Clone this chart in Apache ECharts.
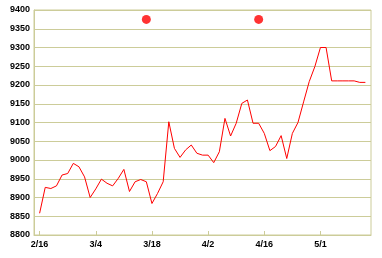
<!DOCTYPE html>
<html>
<head>
<meta charset="utf-8">
<script src="https://cdn.jsdelivr.net/npm/echarts@6/dist/echarts.min.js"></script>
<style>
html,body{margin:0;padding:0;background:#fff;}
#chart{width:382px;height:258px;}
</style>
</head>
<body>
<div id="chart"></div>
<script>
// Trading-day slots (index 0 and last are padding slots)
var tickLabels = {1:'2/16', 11:'3/4', 21:'3/18', 31:'4/2', 41:'4/16', 51:'5/1'};
var slotCount = 61;
var categories = [];
for (var i = 0; i < slotCount; i++) { categories.push(tickLabels[i] || ''); }

var values = [null,
  8858, 8927, 8924, 8931, 8960, 8964, 8991, 8982, 8955, 8900,
  8923, 8949, 8938, 8931, 8951, 8975, 8916, 8942, 8948, 8942,
  8884, 8911, 8942, 9102, 9031, 9007, 9027, 9040, 9018, 9013,
  9013, 8993, 9022, 9111, 9064, 9098, 9151, 9160, 9098, 9098,
  9071, 9025, 9036, 9065, 9004, 9071, 9100, 9155, 9209, 9249,
  9300, 9300, 9211, 9211, 9211, 9211, 9211, 9207, 9207, null];

var markerSlots = [20, 40];
var markerValues = [9375, 9375];

var yMin = 8800, yMax = 9400, yStep = 50;

var isTick = function (idx) { return tickLabels[idx] !== undefined; };

var chart = echarts.init(document.getElementById('chart'), null, {renderer: 'canvas'});
chart.setOption({
  animation: false,
  backgroundColor: '#ffffff',
  grid: {left: 34, right: 11, top: 10, bottom: 23, show: true, borderColor: '#cccc99', borderWidth: 1, backgroundColor: '#ffffff'},
  xAxis: {
    type: 'category',
    data: categories,
    boundaryGap: false,
    axisLine: {lineStyle: {color: '#cccc99', width: 1}},
    axisTick: {show: true, inside: true, length: 4, interval: isTick, lineStyle: {color: '#cccc99'}},
    axisLabel: {interval: isTick, color: '#000', fontFamily: 'Liberation Sans', fontSize: 9, fontWeight: 'bold', margin: 5},
    splitLine: {show: false}
  },
  yAxis: {
    type: 'value',
    min: yMin, max: yMax, interval: yStep,
    axisLine: {show: true, lineStyle: {color: '#cccc99'}},
    axisTick: {show: false},
    axisLabel: {color: '#000', fontFamily: 'Liberation Sans', fontSize: 9, fontWeight: 'bold', margin: 4,
      formatter: function (v) { return String(v); }},
    splitLine: {show: true, lineStyle: {color: '#cccc99', width: 1}}
  },
  series: [
    {
      type: 'line',
      data: values,
      showSymbol: false,
      symbol: 'none',
      lineStyle: {color: '#ff0000', width: 1},
      connectNulls: false
    },
    {
      type: 'scatter',
      data: markerSlots.map(function (s, k) { return [s, markerValues[k]]; }),
      symbol: 'circle',
      symbolSize: 9,
      itemStyle: {color: '#ff0000'}
    }
  ]
});
</script>
</body>
</html>
